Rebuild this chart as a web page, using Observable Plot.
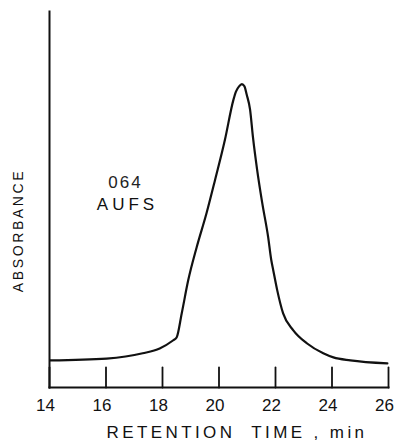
<!DOCTYPE html>
<html>
<head>
<meta charset="utf-8">
<script src="https://cdn.jsdelivr.net/npm/d3@7"></script>
<script src="https://cdn.jsdelivr.net/npm/@observablehq/plot@0.6"></script>
<style>
  html, body { margin: 0; padding: 0; background: #fff; }
  #chart svg { display: block; }
</style>
</head>
<body>
<div id="chart"></div>
<script>
// Retention time (min)
const time = [14.02, 16.02, 17.3, 17.9, 18.37, 18.5, 18.68, 18.91, 19.21, 19.56, 19.86, 20.21, 20.51, 20.6, 20.71, 20.81, 20.9, 20.98, 21.1, 21.2, 21.35, 21.53, 21.74, 21.85, 21.92, 22.06, 22.27, 22.63, 23.12, 23.69, 24.05, 24.65, 25.96];
// Absorbance (arbitrary units, 0 = axis baseline)
const absorbance = [7.2, 7.7, 9.1, 10.4, 12.5, 13.3, 19.7, 28.5, 37.3, 46.4, 55.2, 65.9, 76.5, 78.7, 80.1, 80.7, 80.1, 77.9, 73.9, 66.7, 57.9, 49.1, 40, 33.9, 31.2, 25.9, 19.7, 15.2, 11.7, 9.1, 8, 7.2, 6.4];
const xTicks = [14, 16, 18, 20, 22, 24, 26];
const annotation = ["064", "AUFS"];
const xLabel = "RETENTION  TIME , min";
const yLabel = "ABSORBANCE";

const data = time.map((t, i) => ({t, a: absorbance[i]}));
const font = "Liberation Sans, Arial, sans-serif";
const tickShape = {draw(context, l) { context.moveTo(0, 0); context.lineTo(0, -l); }};

const chart = Plot.plot({
  width: 396,
  height: 442,
  marginLeft: 49,
  marginRight: 8,
  marginTop: 11,
  marginBottom: 55,
  style: {fontFamily: font, background: "#fff", color: "#000"},
  x: {domain: [14, 26]},
  y: {domain: [0, 100]},
  marks: [
    Plot.axisX(xTicks, {tickSize: 0, tickPadding: 11, fontSize: 17, dx: -4, label: null, fill: "#111"}),
    Plot.axisY({ticks: [], label: null}),
    Plot.vector(xTicks, {x: d => d, frameAnchor: "bottom", length: 20, rotate: 0, anchor: "start", shape: tickShape, stroke: "#111", strokeWidth: 1.8}),
    Plot.frame({anchor: "left", stroke: "#111", strokeWidth: 2}),
    Plot.frame({anchor: "bottom", stroke: "#111", strokeWidth: 2}),
    Plot.line(data, {x: "t", y: "a", curve: "monotone-x", stroke: "#111", strokeWidth: 2.2}),
    Plot.text([annotation[0]], {frameAnchor: "top-left", dx: 76, dy: 164, fontSize: 17, textAnchor: "middle", lineAnchor: "top", fill: "#222"}),
    Plot.text([annotation[1]], {frameAnchor: "top-left", dx: 78, dy: 186, fontSize: 17, textAnchor: "middle", lineAnchor: "top", fill: "#111"}),
    Plot.text([xLabel], {frameAnchor: "bottom", dx: 18, dy: 45, fontSize: 17, lineAnchor: "middle", fill: "#111"}),
    Plot.text([yLabel], {frameAnchor: "left", dx: -31, dy: 31, rotate: -90, fontSize: 14, textAnchor: "middle", fill: "#111"})
  ]
});

// letter spacing and whitespace for the wide typewriter-style labels
d3.select(chart).selectAll("text").each(function() {
  const t = this.textContent;
  if (t === xLabel) d3.select(this).style("letter-spacing", "3.4px").style("white-space", "pre");
  if (t === yLabel) d3.select(this).style("letter-spacing", "2.6px");
  if (t === "AUFS") d3.select(this).style("letter-spacing", "4px");
  if (t === "064") d3.select(this).style("letter-spacing", "2px");
});

document.getElementById("chart").appendChild(chart);
</script>
</body>
</html>
